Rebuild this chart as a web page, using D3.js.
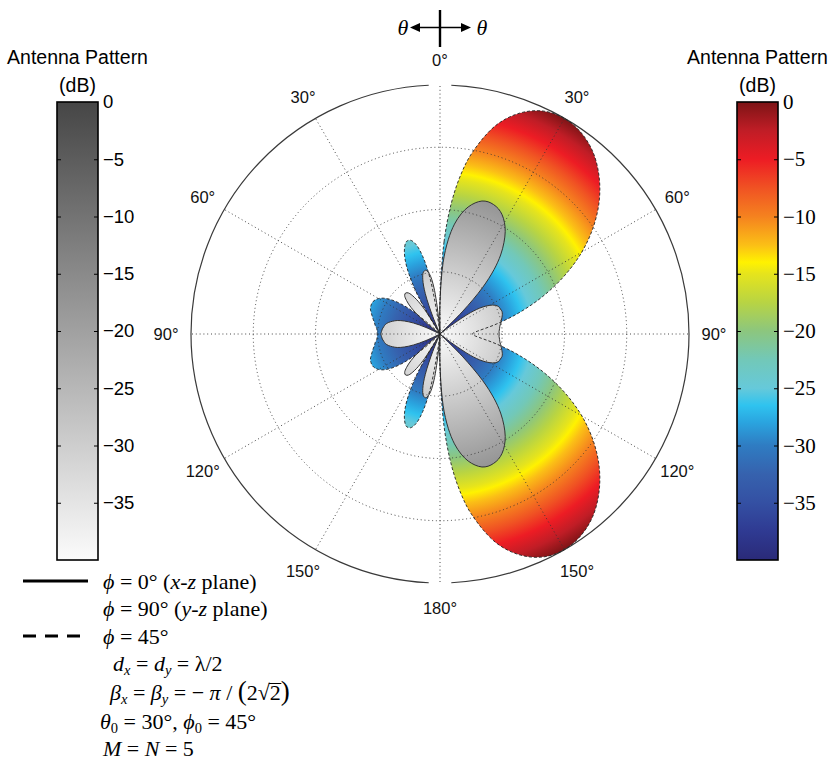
<!DOCTYPE html>
<html><head><meta charset="utf-8">
<script src="https://cdn.jsdelivr.net/npm/d3@7"></script>
<style>body{margin:0;background:#fff}svg{display:block}</style>
</head><body>
<svg id="chart" width="830" height="766"></svg>
<script>
// ---------------- DATA (dB vs theta in degrees) ----------------
// phi = 45 deg cut, right half (theta 0..180)
const theta45R = [0,2.5,5,7.5,10,15,20,25,30,35,40,45,50,55,60,65,70,75,80,85,87.5,90,92.5,95,100,105,110,115,120,125,130,135,140,145,150,155,160,165,170,172.5,175,177.5,180];
const db45R    = [-34.8,-25.2,-18.8,-14.1,-10.5,-5.3,-2.2,-0.5,0,-0.5,-1.8,-3.9,-6.6,-9.9,-13.7,-18.0,-22.5,-26.9,-30.8,-33.7,-34.5,-34.8,-34.5,-33.7,-30.8,-26.9,-22.5,-18.0,-13.7,-9.9,-6.6,-3.9,-1.8,-0.5,0,-0.5,-2.2,-5.3,-10.5,-14.1,-18.8,-25.2,-34.8];
// phi = 45 deg cut, left half (theta 0..180 drawn on the left side)
const theta45L = [0,1,3.8,5,7.5,10,12.5,15,17.5,20,22.5,25,27.5,30,32.5,35,39.1,45,47.5,50,52.5,55,57.5,60,62.5,65,67.5,70,72.5,75,77.5,80,82.5,85,87.5,90,
                  92.5,95,97.5,100,102.5,105,107.5,110,112.5,115,117.5,120,122.5,125,127.5,130,132.5,135,140.9,145,147.5,150,152.5,155,157.5,160,162.5,165,167.5,170,172.5,175,176.2,179,180];
const db45L    = [-34.8,-40,-40,-40,-38.5,-31.2,-27.3,-25.1,-24.2,-24.2,-25.1,-26.7,-29.3,-33.1,-38.4,-40,-40,-40,-37.9,-34.4,-32.0,-30.4,-29.3,-28.6,-28.2,-28.0,-28.0,-28.1,-28.4,-28.7,-29.0,-29.3,-29.5,-29.8,-29.9,-29.9,
                  -29.9,-29.8,-29.5,-29.3,-29.0,-28.7,-28.4,-28.1,-28.0,-28.0,-28.2,-28.6,-29.3,-30.4,-32.0,-34.4,-37.9,-40,-40,-40,-38.4,-33.1,-29.3,-26.7,-25.1,-24.2,-24.2,-25.1,-27.3,-31.2,-38.5,-40,-40,-40,-34.8];
// phi = 0 deg cut (x-z plane), right half
const theta0R = [0,2.5,5,7.5,10,12.5,15,17.5,20,22.5,25,27.5,30,32.5,35,37.5,40,42.5,45,47.5,48.9,50,52.5,55,57.5,60,62.5,65,67.5,70,72.5,75,77.5,80,82.5,85,87.5,90,
                 92.5,95,97.5,100,102.5,105,107.5,110,112.5,115,117.5,120,122.5,125,127.5,130,131.1,132.5,135,137.5,140,142.5,145,147.5,150,152.5,155,157.5,160,162.5,165,167.5,170,172.5,175,177.5,180];
const db0R    = [-34.8,-28.5,-24.8,-22.2,-20.4,-19.1,-18.2,-17.6,-17.4,-17.5,-17.8,-18.4,-19.3,-20.5,-22.1,-24.0,-26.5,-29.9,-34.8,-40,-40,-40,-37.7,-34.0,-32.0,-30.8,-30.0,-29.6,-29.5,-29.4,-29.5,-29.7,-29.9,-30.1,-30.3,-30.4,-30.5,-30.5,
                 -30.5,-30.4,-30.3,-30.1,-29.9,-29.7,-29.5,-29.4,-29.5,-29.6,-30.0,-30.8,-32.0,-34.0,-37.7,-40,-40,-40,-34.8,-29.9,-26.5,-24.0,-22.1,-20.5,-19.3,-18.4,-17.8,-17.5,-17.4,-17.6,-18.2,-19.1,-20.4,-22.2,-24.8,-28.5,-34.8];
// phi = 0 deg cut (x-z plane), left half
const theta0L = [0,1,2.7,5,7.5,10,12.5,15,17.5,20,22.5,25,26.5,27.5,30,32.5,35,37.5,40,42.5,45,47.5,50,52.5,55,57.8,62.5,65,67.5,70,72.5,75,77.5,80,82.5,85,87.5,90,
                 92.5,95,97.5,100,102.5,105,107.5,110,112.5,115,117.5,122.2,125,127.5,130,132.5,135,137.5,140,142.5,145,147.5,150,152.5,153.5,155,157.5,160,162.5,165,167.5,170,172.5,175,177.3,179,180];
const db0L    = [-34.8,-39.1,-40,-37.5,-32.4,-30.2,-29.5,-29.7,-30.8,-33.1,-37.0,-40,-40,-40,-38.9,-34.9,-32.8,-31.7,-31.4,-31.6,-32.4,-33.7,-35.8,-39.0,-40,-40,-40,-37.5,-35.4,-33.9,-32.8,-32.1,-31.5,-31.1,-30.9,-30.7,-30.6,-30.5,
                 -30.6,-30.7,-30.9,-31.1,-31.5,-32.1,-32.8,-33.9,-35.4,-37.5,-40,-40,-40,-39.0,-35.8,-33.7,-32.4,-31.6,-31.4,-31.7,-32.8,-34.9,-38.9,-40,-40,-40,-37.0,-33.1,-30.8,-29.7,-29.5,-30.2,-32.4,-37.5,-40,-39.1,-34.8];

const ringLevels = [-30, -20, -10];
const spokeAngles = [0, 30, 60, 90, 120, 150, 180, 210, 240, 270, 300, 330];
const rightLabels = [0, 30, 60, 90, 120, 150, 180];
const leftLabels = [30, 60, 90, 120, 150];
const cbTicks = [0, -5, -10, -15, -20, -25, -30, -35];
const dbDomain = [-40, 0];

// ---------------- STYLE (colormaps) ----------------
const jetStops = [
  [-40, "#2a2a78"], [-37.5, "#2f3a92"], [-35, "#3450a3"], [-32.5, "#3662ae"],
  [-30, "#2f7cc2"], [-28, "#2aa4df"], [-26.5, "#2fc3ef"], [-25, "#66c9da"],
  [-22.5, "#72c8b8"], [-20, "#8cc67e"], [-17.5, "#b8d443"], [-15, "#e6e41c"],
  [-14, "#fff200"], [-12.5, "#fbbf16"], [-10, "#f5821f"], [-7.5, "#f05223"],
  [-5, "#ed1c24"], [-2.5, "#c01d26"], [0, "#7d1416"]
];
const grayStops = [[-40, "#fbfbfb"], [0, "#464646"]];

const SANS = "'Liberation Sans', Arial, Helvetica, sans-serif";
const SERIF = "'Liberation Serif', 'Times New Roman', Times, serif";

const svg = d3.select("#chart");
const defs = svg.append("defs");

const cx = 440, cy = 334, R = 249;
const rScale = d3.scaleLinear().domain(dbDomain).range([0, R]).clamp(true);
const rad = Math.PI / 180;

function addRadial(id, stops) {
  const g = defs.append("radialGradient").attr("id", id)
    .attr("gradientUnits", "userSpaceOnUse").attr("cx", 0).attr("cy", 0).attr("r", R);
  stops.forEach(s => g.append("stop").attr("offset", (s[0] + 40) / 40).attr("stop-color", s[1]));
}
function addLinear(id, stops) {
  const g = defs.append("linearGradient").attr("id", id)
    .attr("x1", 0).attr("y1", 1).attr("x2", 0).attr("y2", 0);
  stops.forEach(s => g.append("stop").attr("offset", (s[0] + 40) / 40).attr("stop-color", s[1]));
}
addRadial("jetR", jetStops);
addRadial("grayR", grayStops);
addLinear("jetL", jetStops);
addLinear("grayL", grayStops);

const plot = svg.append("g").attr("transform", `translate(${cx},${cy})`);

function shapePoints(thR, dbR, thL, dbL) {
  const pts = thR.map((t, i) => [t * rad, rScale(dbR[i])]);
  for (let i = thL.length - 2; i >= 1; i--) pts.push([-thL[i] * rad, rScale(dbL[i])]);
  return pts;
}
const radial = d3.lineRadial().curve(d3.curveCatmullRomClosed.alpha(0.5));

const p45 = shapePoints(theta45R, db45R, theta45L, db45L);
const p0 = shapePoints(theta0R, db0R, theta0L, db0L);

plot.append("path").attr("d", radial(p45)).attr("fill", "url(#jetR)").attr("stroke", "none");
plot.append("path").attr("d", radial(p0)).attr("fill", "url(#grayR)").attr("stroke", "none");

// grid
const grid = plot.append("g").attr("fill", "none").attr("stroke", "#333").attr("stroke-width", 0.9)
  .attr("stroke-dasharray", "1,2.8");
ringLevels.forEach(v => grid.append("circle").attr("r", rScale(v)));
spokeAngles.forEach(a => {
  grid.append("line").attr("x1", 0).attr("y1", 0)
    .attr("x2", R * Math.sin(a * rad)).attr("y2", -R * Math.cos(a * rad));
});
// outer circle with gaps at 0 and 180
const arc = d3.arc().innerRadius(R).outerRadius(R);
[[2.6, 177.4], [182.6, 357.4]].forEach(([a0, a1]) => {
  plot.append("path").attr("d", arc({startAngle: a0 * rad, endAngle: a1 * rad}))
    .attr("fill", "none").attr("stroke", "#3a3a3a").attr("stroke-width", 1.2);
});

// outlines
plot.append("path").attr("d", radial(p0)).attr("fill", "none").attr("stroke", "#333").attr("stroke-width", 1);
plot.append("path").attr("d", radial(p45)).attr("fill", "none").attr("stroke", "#222")
  .attr("stroke-width", 0.9).attr("stroke-dasharray", "3,2");

// angle labels
const LR = 274;
function angLabel(a, screenA) {
  plot.append("text").attr("x", LR * Math.sin(screenA * rad)).attr("y", -LR * Math.cos(screenA * rad))
    .attr("text-anchor", "middle").attr("dominant-baseline", "central")
    .attr("font-family", SANS).attr("font-size", 16.5).attr("fill", "#111").text(a + "\u00b0");
}
rightLabels.forEach(a => angLabel(a, a));
leftLabels.forEach(a => angLabel(a, -a));

// theta direction indicator
const ind = svg.append("g");
ind.append("line").attr("x1", 440).attr("x2", 440).attr("y1", 10).attr("y2", 47).attr("stroke", "#000").attr("stroke-width", 2.4);
ind.append("line").attr("x1", 418).attr("x2", 463).attr("y1", 27.5).attr("y2", 27.5).attr("stroke", "#000").attr("stroke-width", 1.6);
ind.append("path").attr("d", "M410,27.5 L420,23 L420,32 Z").attr("fill", "#000");
ind.append("path").attr("d", "M471,27.5 L461,23 L461,32 Z").attr("fill", "#000");
ind.append("text").attr("x", 403).attr("y", 35).attr("text-anchor", "middle").attr("font-family", SERIF)
  .attr("font-style", "italic").attr("font-size", 22).text("\u03b8");
ind.append("text").attr("x", 482).attr("y", 35).attr("text-anchor", "middle").attr("font-family", SERIF)
  .attr("font-style", "italic").attr("font-size", 22).text("\u03b8");

// colorbars
function colorbar(x, grad, family, size, title) {
  const top = 102, bot = 560, w = 41;
  const y = d3.scaleLinear().domain(dbDomain).range([bot, top]);
  const g = svg.append("g");
  g.append("rect").attr("x", x).attr("y", top).attr("width", w).attr("height", bot - top)
    .attr("fill", `url(#${grad})`).attr("stroke", "#000").attr("stroke-width", 1.6);
  const axR = g.append("g").attr("transform", `translate(${x + w},0)`)
    .call(d3.axisRight(y).tickValues(cbTicks).tickSize(-4).tickPadding(5));
  const axL = g.append("g").attr("transform", `translate(${x},0)`)
    .call(d3.axisLeft(y).tickValues(cbTicks.filter(v => v !== 0)).tickSize(-4).tickFormat(""));
  [axR, axL].forEach(a => { a.select(".domain").remove(); a.selectAll("line").attr("stroke", "#000").attr("stroke-width", 1); });
  axR.selectAll("text").attr("font-family", family).attr("font-size", size).attr("fill", "#000");
  axR.selectAll(".tick").filter(d => d === 0).select("line").remove();
  g.append("text").attr("x", x + w / 2).attr("y", 64).attr("text-anchor", "middle")
    .attr("font-family", SANS).attr("font-size", 19.5).text(title[0]);
  g.append("text").attr("x", x + w / 2).attr("y", 92).attr("text-anchor", "middle")
    .attr("font-family", SANS).attr("font-size", 19.5).text(title[1]);
}
colorbar(57, "grayL", SANS, 18.5, ["Antenna Pattern", "(dB)"]);
colorbar(737, "jetL", SERIF, 21, ["Antenna Pattern", "(dB)"]);

// legend
const leg = svg.append("g");
leg.append("line").attr("x1", 23).attr("x2", 88).attr("y1", 581).attr("y2", 581).attr("stroke", "#000").attr("stroke-width", 3);
leg.append("line").attr("x1", 23).attr("x2", 88).attr("y1", 636).attr("y2", 636).attr("stroke", "#000").attr("stroke-width", 3)
  .attr("stroke-dasharray", "13,9");

function rich(x, y, segs, size) {
  const t = leg.append("text").attr("x", x).attr("y", y).attr("font-family", SERIF).attr("font-size", size).attr("fill", "#000");
  let shift = 0, idx = 0, ovIdx = -1;
  segs.forEach(s => {
    const target = s.sub ? 4 : 0;
    const ts = t.append("tspan").text(s.t);
    if (target !== shift) { ts.attr("dy", target - shift); shift = target; }
    if (s.i) ts.attr("font-style", "italic");
    if (s.sub) ts.attr("font-size", size * 0.66);
    if (s.big) ts.attr("font-size", s.big);
    if (s.ov) ovIdx = idx;
    idx += s.t.length;
  });
  if (ovIdx >= 0) {
    const e = t.node().getExtentOfChar(ovIdx);
    leg.append("line").attr("x1", e.x - 1).attr("x2", e.x + e.width + 0.5)
      .attr("y1", e.y + e.height * 0.14).attr("y2", e.y + e.height * 0.14)
      .attr("stroke", "#000").attr("stroke-width", 1);
  }
}
const LS = 22;
rich(103, 589, [{t: "\u03d5", i: 1}, {t: " = 0\u00b0 ("}, {t: "x-z", i: 1}, {t: " plane)"}], LS);
rich(103, 616, [{t: "\u03d5", i: 1}, {t: " = 90\u00b0 ("}, {t: "y-z", i: 1}, {t: " plane)"}], LS);
rich(103, 644, [{t: "\u03d5", i: 1}, {t: " = 45\u00b0"}], LS);
rich(113, 671, [{t: "d", i: 1}, {t: "x", i: 1, sub: 1}, {t: " = "}, {t: "d", i: 1}, {t: "y", i: 1, sub: 1}, {t: " = \u03bb/2"}], LS);
rich(110, 700, [{t: "\u03b2", i: 1}, {t: "x", i: 1, sub: 1}, {t: " = "}, {t: "\u03b2", i: 1}, {t: "y", i: 1, sub: 1},
  {t: " = \u2212 "}, {t: "\u03c0", i: 1}, {t: " / "}, {t: "(", big: 27}, {t: "2\u221a"}, {t: "2", ov: 1}, {t: ")", big: 27}], LS);
rich(100, 729, [{t: "\u03b8", i: 1}, {t: "0", sub: 1}, {t: " = 30\u00b0, "}, {t: "\u03d5", i: 1}, {t: "0", sub: 1}, {t: " = 45\u00b0"}], LS);
rich(103, 756, [{t: "M", i: 1}, {t: " = "}, {t: "N", i: 1}, {t: " = 5"}], LS);
</script>
</body></html>
